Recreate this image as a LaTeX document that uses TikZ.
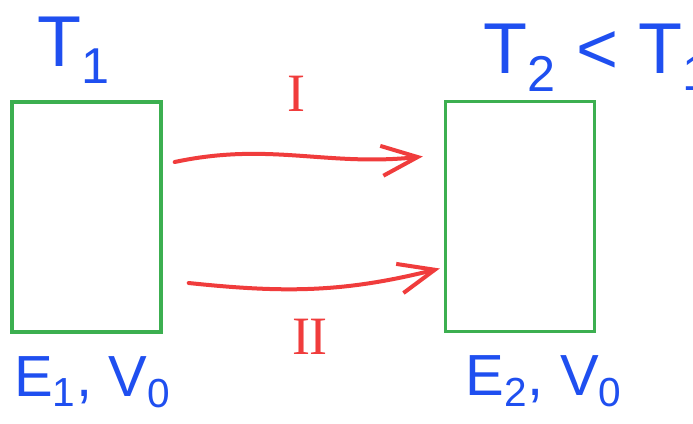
\documentclass[tikz,border=0pt]{standalone}
\usepackage{fontspec}
\setmainfont{Liberation Sans}
\newfontfamily\romanfont{Liberation Serif}
\usetikzlibrary{arrows.meta,positioning}
\definecolor{ink}{HTML}{1F4FF0}
\definecolor{heat}{HTML}{F03C3C}
\definecolor{wall}{HTML}{3CAF50}
\tikzset{
  body/.style={draw=wall, line width=1.7pt, minimum width=74.5pt,
    minimum height=115pt, inner sep=0pt},
  temp/.style={text=ink, font=\fontsize{36}{38}\selectfont, inner sep=0pt},
  state/.style={text=ink, font=\fontsize{29}{31}\selectfont, inner sep=0pt},
  tag/.style={text=heat, font=\romanfont\fontsize{27}{29}\selectfont, inner sep=0pt},
  flow/.style={heat, line width=2pt, line cap=round,
    -{Straight Barb[length=18pt, width=15pt, line width=2pt]}},
}

\begin{document}
\begin{tikzpicture}[x=0.5pt, y=-0.5pt]
    \useasboundingbox[fill=white] (0,0) rectangle (693,424);

    \node[body] (b1) at (86.5,217) {};
    \node[body] (b2) at (520,216.5) {};

    \node[temp, above=8pt of b1.north, xshift=-6pt] (t1) {T\textsubscript{1}};
    \node[temp, anchor=base west] (t2) at (483,73) {T\textsubscript{2} < T\textsubscript{1}};
    \node[state, below=11pt of b1.south, xshift=3pt] (s1) {E\textsubscript{1}, V\textsubscript{0}};
    \node[state, below=11pt of b2.south, xshift=12pt] (s2) {E\textsubscript{2}, V\textsubscript{0}};

    % ends of the two paths
    \coordinate (ia) at ([xshift=6pt, yshift=27.5pt]b1.east);
    \coordinate (ib) at ([xshift=-10.5pt, yshift=30pt]b2.west);
    \coordinate (iia) at ([xshift=13pt, yshift=-33pt]b1.east);
    \coordinate (iib) at ([xshift=-2pt, yshift=-26pt]b2.west);

    \draw[flow] (ia) to[out=12, in=186] (ib);
    \draw[flow] (iia) to[out=-6, in=194] (iib);

    \node[tag] (p1) at (296,94) {I};
    \node[tag] (p2) at (310,337) {II};
\end{tikzpicture}
\end{document}
